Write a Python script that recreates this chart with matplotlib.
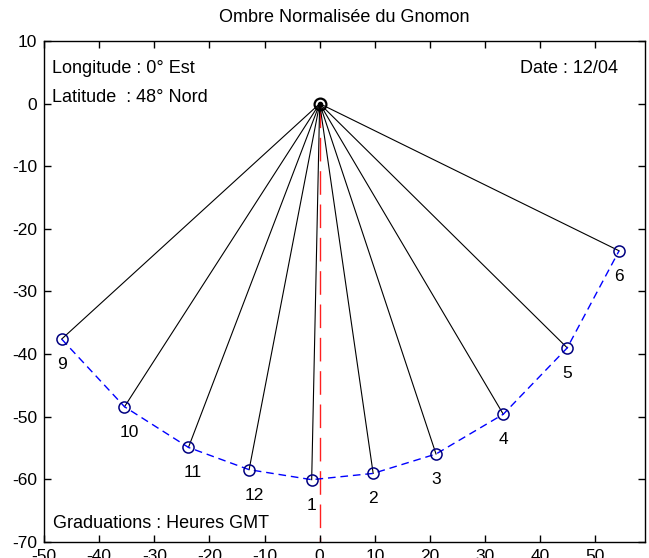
import matplotlib
matplotlib.use("Agg")
import matplotlib.pyplot as plt

plt.rcParams['font.family'] = ['Liberation Sans', 'DejaVu Sans']
plt.rcParams['axes.unicode_minus'] = False

# heures (GMT) et extrémités de l'ombre normalisée
heures = ['9', '10', '11', '12', '1', '2', '3', '4', '5', '6']
ombre_x = [-46.8, -35.4, -23.8, -12.8, -1.45, 9.7, 21.1, 33.3, 44.9, 54.3]
ombre_y = [-37.6, -48.4, -54.9, -58.45, -60.05, -59.05, -55.95, -49.6, -39.0, -23.5]

x_ticks = [-50, -40, -30, -20, -10, 0, 10, 20, 30, 40, 50]
y_ticks = [-70, -60, -50, -40, -30, -20, -10, 0, 10]

fig = plt.figure(figsize=(6.49, 5.58), dpi=100)
ax = fig.add_axes([0.0678, 0.0287, 0.926, 0.8978])

# gnomon -> extrémité de l'ombre pour chaque heure
for x, y in zip(ombre_x, ombre_y):
    ax.plot([0, x], [0, y], color='black', lw=0.8, zorder=2)

# trajectoire de l'ombre
ax.plot(ombre_x, ombre_y, color='#0000ff', lw=1, dashes=(5.5, 3.5), zorder=3)
ax.plot(ombre_x, ombre_y, ls='none', marker='o', ms=8, mfc='none',
        mec='#000080', mew=1.1, zorder=4)

# méridienne (midi solaire)
ax.plot([0, 0], [0, -70], color='#ff2020', lw=1, dashes=(17, 7), zorder=1)

# pied du gnomon
ax.plot([0], [0], marker='o', ms=8.5, mfc='none', mec='black', mew=1.6, zorder=5)
ax.plot([0], [0], marker='o', ms=3, color='black', zorder=5)

for h, x, y in zip(heures, ombre_x, ombre_y):
    ax.text(x - 0.85, y - 4.8, h, ha='left', va='baseline', fontsize=12.5)

ax.text(-48.55, 4.9, 'Longitude : 0° Est', fontsize=13, va='baseline')
ax.text(-48.55, 0.3, 'Latitude  : 48° Nord', fontsize=13, va='baseline')
ax.text(54.1, 4.9, 'Date : 12/04', fontsize=13, va='baseline', ha='right')
ax.text(-48.4, -67.75, 'Graduations : Heures GMT', fontsize=13, va='baseline')

ax.set_title('Ombre Normalisée du Gnomon', fontsize=13, pad=13.5)

ax.set_xlim(-50, 59)
ax.set_ylim(-70, 10)
ax.set_xticks(x_ticks)
ax.set_yticks(y_ticks)
ax.tick_params(direction='in', top=True, right=True, length=5, width=1,
               labelsize=12.5, pad=5)
for s in ax.spines.values():
    s.set_linewidth(1)

fig.savefig('out.png', dpi=100)
